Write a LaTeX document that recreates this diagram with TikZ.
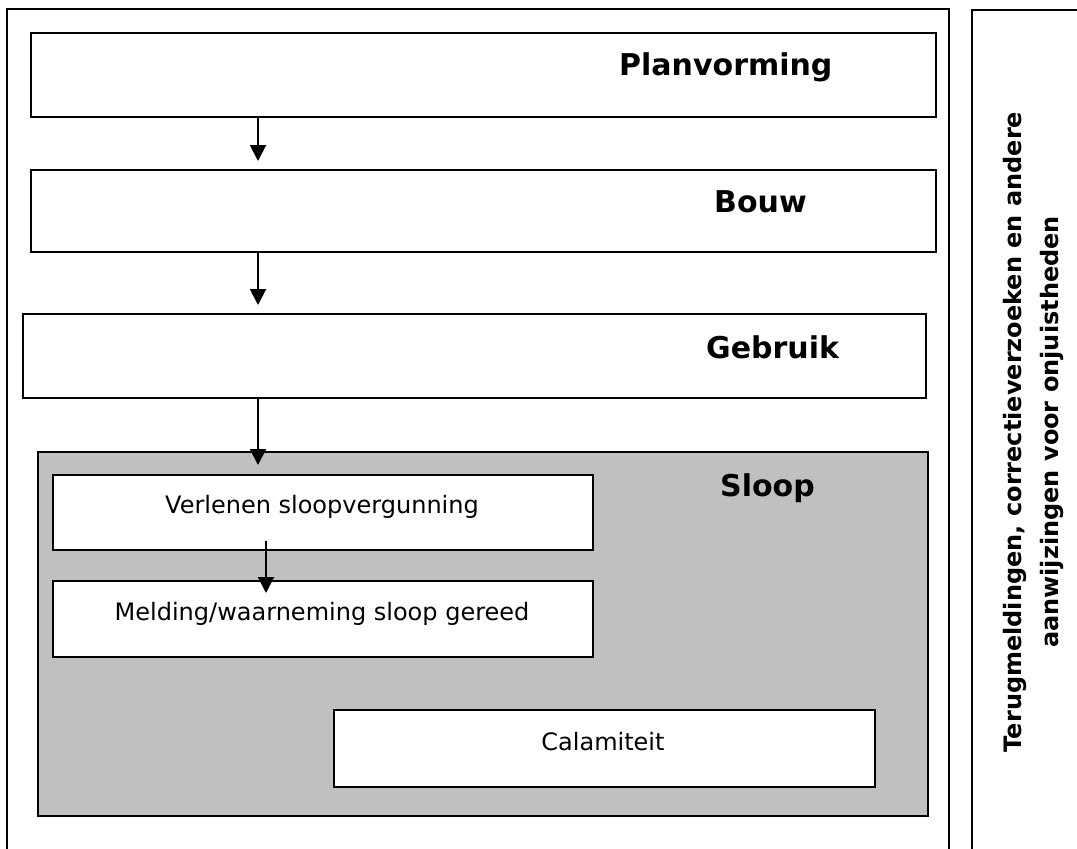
\documentclass[tikz,border=0pt]{standalone}
\usepackage{fontspec}
\setmainfont{DejaVu Sans}
\usetikzlibrary{arrows.meta}
\definecolor{sloopgray}{HTML}{C0C0C0}
\begin{document}
\begin{tikzpicture}[x=1pt,y=-1pt,
  frame/.style={draw=black, line width=2pt},
  box/.style={draw=black, line width=2pt, fill=white, rectangle, inner sep=0pt, anchor=north west},
  arr/.style={line width=2pt, -{Triangle[length=16pt,width=16pt]}},
  title/.style={font=\bfseries\fontsize{30pt}{36pt}\selectfont, anchor=base west, inner sep=0pt},
  lbl/.style={font=\fontsize{24pt}{28pt}\selectfont, anchor=base, inner sep=0pt},
  side/.style={font=\bfseries\fontsize{24pt}{37pt}\selectfont, rotate=90, align=center, inner sep=0pt}]
\useasboundingbox (0,0) rectangle (1077,849);
\fill[white] (0,0) rectangle (1077,849);
% outer frames
\draw[frame] (7,860) -- (7,9) -- (949,9) -- (949,860);
\draw[frame] (972,860) -- (972,10) -- (1090,10);
% main boxes
\node[box, minimum width=905pt, minimum height=84pt] (plan) at (30,32) {};
\node[box, minimum width=905pt, minimum height=82pt] (bouw) at (30,169) {};
\node[box, minimum width=903pt, minimum height=84pt] (gebr) at (22,313) {};
\node[box, fill=sloopgray, minimum width=890pt, minimum height=364pt] (sloop) at (37,451) {};
\node[box, minimum width=540pt, minimum height=75pt] (verl) at (52,474) {};
\node[box, minimum width=540pt, minimum height=76pt] (meld) at (52,580) {};
\node[box, minimum width=541pt, minimum height=77pt] (cala) at (333,709) {};
% titles
\node[title] (tplan) at (619,75) {Planvorming};
\node[title] (tbouw) at (714,212) {Bouw};
\node[title] (tgebr) at (706,358) {Gebruik};
\node[title] (tsloop) at (720,496) {Sloop};
% labels
\node[lbl] (lverl) at (322,513) {Verlenen sloopvergunning};
\node[lbl] (lmeld) at (322,620) {Melding/waarneming sloop gereed};
\node[lbl] (lcala) at (603,750) {Calamiteit};
% side text
\node[side] (fb) at (1033,432) {Terugmeldingen, correctieverzoeken en andere\\aanwijzingen voor onjuistheden};
% arrows
\coordinate (e1) at (258,161);
\coordinate (e2) at (258,305);
\coordinate (e3) at (258,465);
\coordinate (s4) at (266,541);
\coordinate (e4) at (266,593);
\draw[arr] (plan.south -| e1) -- (e1);
\draw[arr] (bouw.south -| e2) -- (e2);
\draw[arr] (gebr.south -| e3) -- (e3);
\draw[arr] (s4) -- (e4);
\end{tikzpicture}
\end{document}
